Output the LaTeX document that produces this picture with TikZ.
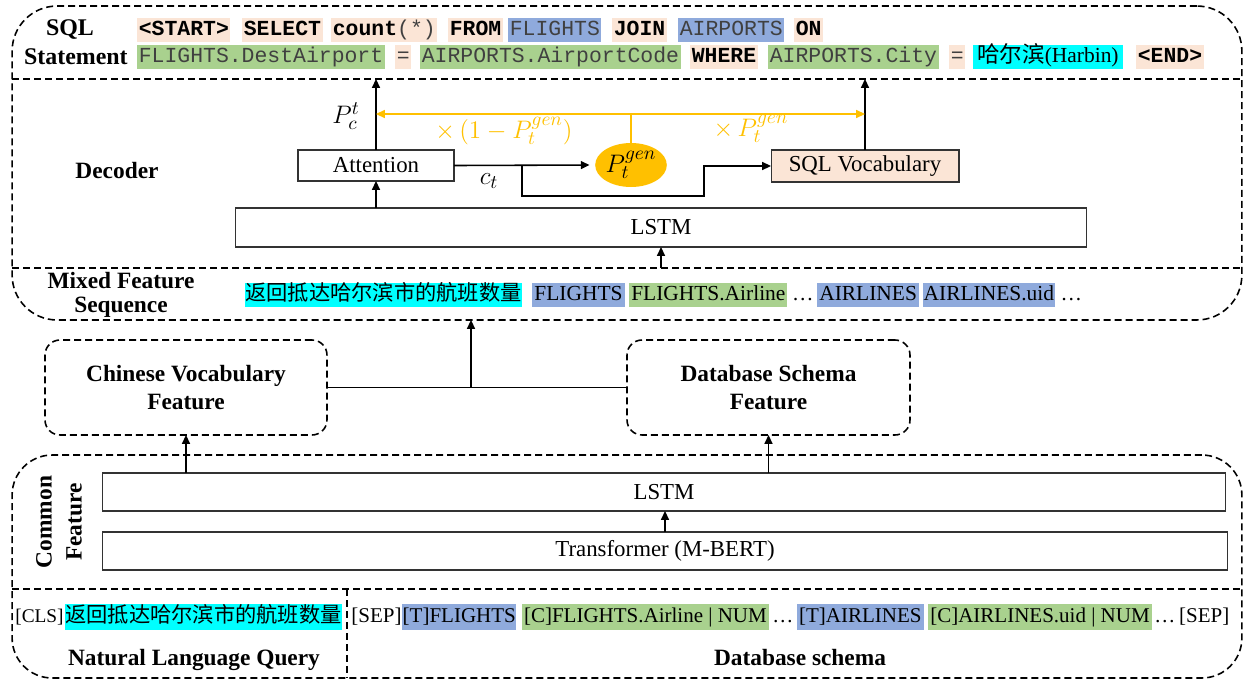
\documentclass[tikz,border=0pt]{standalone}
\usepackage{fontspec}
\setmainfont{Liberation Serif}
\setmonofont{Liberation Mono}
\newfontfamily\cjk{Noto Sans CJK SC}
\usetikzlibrary{arrows.meta,shapes.geometric,calc}

\definecolor{peach}{HTML}{FBE5D6}
\definecolor{tblue}{HTML}{8FAADC}
\definecolor{cgreen}{HTML}{A9D18E}
\definecolor{qcyan}{HTML}{00FFFF}
\definecolor{gold}{HTML}{FFC000}

\newcommand\fsLabel{\fontsize{13.3pt}{16pt}\selectfont\bfseries}
\newcommand\fsBox{\fontsize{13pt}{15pt}\selectfont}
\newcommand\fsMath{\fontsize{15pt}{17pt}\selectfont}
\newcommand\fsTok{\fontsize{12.2pt}{14pt}\selectfont\ttfamily}
\newcommand\fsRow{\fontsize{12.2pt}{14pt}\selectfont}
\newcommand\fsInput{\fontsize{11.95pt}{14pt}\selectfont}
\newcommand\fsCJK{\fontsize{12.1pt}{14pt}\selectfont\cjk}

\tikzset{
  region/.style={draw, dash pattern=on 0.14cm off 0.08cm, line width=0.9pt, inner sep=0pt, outer sep=0pt},
  regline/.style={dash pattern=on 0.14cm off 0.08cm, line width=0.9pt},
  layer/.style={draw=black!80, line width=0.6pt, inner sep=0pt, outer sep=0pt, font=\fsBox},
  arr/.style={-{Triangle[length=5pt,width=4.5pt]}, line width=0.9pt},
  garr/.style={arr, draw=gold},
  tok/.style={anchor=west, inner xsep=0.03cm, inner ysep=0pt, minimum height=0.48cm,
    text height=8.4pt, text depth=2.6pt, font=\fsTok, text=black!75},
  kw/.style={tok, fill=peach, font=\fsTok\bfseries, text=black},
  hl/.style={anchor=west, inner xsep=0.04cm, inner ysep=0pt, minimum height=0.48cm,
    text height=9pt, text depth=3pt, font=\fsRow},
  hlb/.style={hl, minimum height=0.52cm, font=\fsInput},
  plain/.style={hl, inner xsep=0pt},
  plainb/.style={hlb, inner xsep=0pt},
  lbl/.style={font=\fsLabel, align=center, inner sep=0pt},
  gen/.style={ellipse, fill=gold, minimum width=0.94cm, minimum height=0.88cm, inner sep=0pt, font=\fsMath},
  mlab/.style={font=\fsMath, inner sep=0pt}
}

\begin{document}
\begin{tikzpicture}[x=0.02cm, y=-0.02cm]
\useasboundingbox (0,0) rectangle (1251,680);

% ---------- upper region: SQL statement / decoder / mixed sequence ----------
\node[region, rounded corners=0.9cm, minimum width=24.6cm, minimum height=6.28cm] (topbox) at (627,163) {};
\coordinate (sqlsep) at (627,79);
\coordinate (mixsep) at (627,268);
\draw[regline] (topbox.west |- sqlsep) -- (topbox.east |- sqlsep);
\draw[regline] (topbox.west |- mixsep) -- (topbox.east |- mixsep);

% SQL statement
\node[lbl, font=\fontsize{13.6pt}{16pt}\selectfont\bfseries] (sqllab) at (70,30) {SQL};
\node[lbl, font=\fontsize{13.6pt}{16pt}\selectfont\bfseries, anchor=east] (stmlab) at (128,57) {Statement};

\node[kw] (s1) at (137,30) {<START>};
\node[kw] (s2) at (242,30) {SELECT};
\node[tok, fill=peach] (s3) at (331,30) {\textbf{\color{black}count}(*)};
\node[kw] (s4) at (448,30) {FROM};
\node[tok, fill=tblue] (s5) at (508,30) {FLIGHTS};
\node[kw] (s6) at (612,30) {JOIN};
\node[tok, fill=tblue] (s7) at (678,30) {AIRPORTS};
\node[kw] (s8) at (794,30) {ON};

\node[tok, fill=cgreen] (s9) at (137,57) {FLIGHTS.DestAirport};
\node[tok, fill=peach] (s10) at (395,57) {=};
\node[tok, fill=cgreen] (s11) at (420,57) {AIRPORTS.AirportCode};
\node[kw] (s12) at (690,57) {WHERE};
\node[tok, fill=cgreen] (s13) at (768,57) {AIRPORTS.City};
\node[tok, fill=peach] (s14) at (949,57) {=};
\node[tok, fill=qcyan, font=\fsRow, text=black, inner xsep=0.08cm] (s15) at (973,57) {{\fontsize{12.8pt}{14pt}\selectfont\cjk 哈尔滨}(Harbin)};
\node[kw] (s16) at (1136,57) {<END>};

% decoder
\node[lbl] (declab) at (117,171) {Decoder};
\node[layer, minimum width=17.04cm, minimum height=0.78cm] (declstm) at (661,227.5) {LSTM};
\node[layer, minimum width=3.12cm, minimum height=0.62cm] (att) at (376,165.5) {Attention};
\node[layer, fill=peach, minimum width=3.76cm, minimum height=0.64cm] (vocab) at (865,166) {SQL Vocabulary};
\node[gen] (pgen) at (631,165) {$P_t^{gen}$};

\draw[arr] (declstm.south |- mixsep) -- (declstm.south);
\draw[arr] (att.south |- declstm.north) -- (att.south);
\draw[arr] (att.north) -- (att.north |- sqlsep);
\draw[arr] (vocab.north) -- (vocab.north |- sqlsep);
\draw[arr, shorten >=3pt] (att.east) -- (pgen.west);

\coordinate (split) at (522,165.5);
\coordinate (lowL) at (522,196);
\coordinate (lowR) at (704,196);
\draw[arr] (split) -- (lowL) -- (lowR) |- (vocab.west);

\node[mlab] (ct) at (489,181) {$c_t$};
\node[mlab] (pct) at (346,116) {$P_c^t$};

% copy / generate gate
\coordinate (gtop) at (631,114);
\draw[draw=gold, line width=0.9pt] (pgen.north) -- (gtop);
\draw[garr] (gtop) -- (att.north |- gtop);
\draw[garr] (gtop) -- (vocab.north |- gtop);
\node[mlab, text=gold] (lg1) at (504,131) {$\times\,(1-P_t^{gen})$};
\node[mlab, text=gold] (lg2) at (751,129) {$\times\,P_t^{gen}$};

% mixed feature sequence
\node[lbl, font=\fontsize{13.3pt}{13.6pt}\selectfont\bfseries] (mixlab) at (121,294.5) {Mixed Feature\\Sequence};
\node[hl, fill=qcyan, font=\fsCJK, inner xsep=0pt] (m1) at (245,295) {返回抵达哈尔滨市的航班数量};
\node[hl, fill=tblue] (m2) at ($(m1.east)+(10,0)$) {FLIGHTS};
\node[hl, fill=cgreen] (m3) at ($(m2.east)+(4,0)$) {FLIGHTS.Airline};
\node[plain] (m4) at ($(m3.east)+(4,0)$) {…};
\node[hl, fill=tblue] (m5) at ($(m4.east)+(3,0)$) {AIRLINES};
\node[hl, fill=tblue, inner xsep=0.02cm] (m6) at ($(m5.east)+(3,0)$) {AIRLINES.uid};
\node[plain] (m7) at ($(m6.east)+(5,0)$) {…};

% ---------- feature boxes ----------
\node[region, rounded corners=0.3cm, minimum width=5.64cm, minimum height=1.9cm, font=\fsLabel, align=center] (chin) at (186,387.5) {Chinese Vocabulary\\Feature};
\node[region, rounded corners=0.3cm, minimum width=5.66cm, minimum height=1.9cm, font=\fsLabel, align=center] (dbf) at (768.5,387.5) {Database Schema\\Feature};
\coordinate (hub) at (471,387.5);
\draw[line width=0.9pt] (chin.east) -- (dbf.west);
\draw[arr] (hub) -- (hub |- topbox.south);

% ---------- lower region: common feature / inputs ----------
\node[region, rounded corners=0.8cm, minimum width=24.6cm, minimum height=4.46cm] (botbox) at (627,566.5) {};
\coordinate (botsep) at (627,589);
\coordinate (nlsep) at (347,589);
\draw[regline] (botbox.west |- botsep) -- (botbox.east |- botsep);
\draw[regline] (nlsep) -- (nlsep |- botbox.south);

\node[lbl, rotate=90, font=\fontsize{13.3pt}{17pt}\selectfont\bfseries] (comlab) at (59,522) {Common\\Feature};
\node[layer, minimum width=22.48cm, minimum height=0.76cm] (clstm) at (664,492) {LSTM};
\node[layer, minimum width=22.52cm, minimum height=0.76cm] (trf) at (665,551) {Transformer (M-BERT)};
\draw[arr] (trf.north) -- (trf.north |- clstm.south);
\draw[arr] (chin.south |- clstm.north) -- (chin.south);
\draw[arr] (dbf.south |- clstm.north) -- (dbf.south);

% input sequence
\node[plainb, font=\fontsize{11pt}{14pt}\selectfont] (cls) at (15,617) {[CLS]};
\node[hlb, fill=qcyan, font=\fsCJK, inner xsep=0pt] (nlcn) at ($(cls.east)+(1,0)$) {返回抵达哈尔滨市的航班数量};
\node[plainb] (sep1) at (351,617) {[SEP]};
\node[hlb, fill=tblue, inner xsep=0.01cm] (t1) at ($(sep1.east)+(0,0)$) {[T]FLIGHTS};
\node[hlb, fill=cgreen] (c1) at ($(t1.east)+(5,0)$) {[C]FLIGHTS.Airline | NUM};
\node[plainb] (el1) at ($(c1.east)+(3,0)$) {…};
\node[hlb, fill=tblue] (t2) at ($(el1.east)+(3,0)$) {[T]AIRLINES};
\node[hlb, fill=cgreen] (c2) at ($(t2.east)+(4,0)$) {[C]AIRLINES.uid | NUM};
\node[plainb] (el2) at ($(c2.east)+(2,0)$) {…};
\node[plainb] (sep2) at ($(el2.east)+(3,0)$) {[SEP]};

\node[lbl] (nlq) at (194,660) {Natural Language Query};
\node[lbl] (dbs) at (800,657) {Database schema};
\end{tikzpicture}
\end{document}
